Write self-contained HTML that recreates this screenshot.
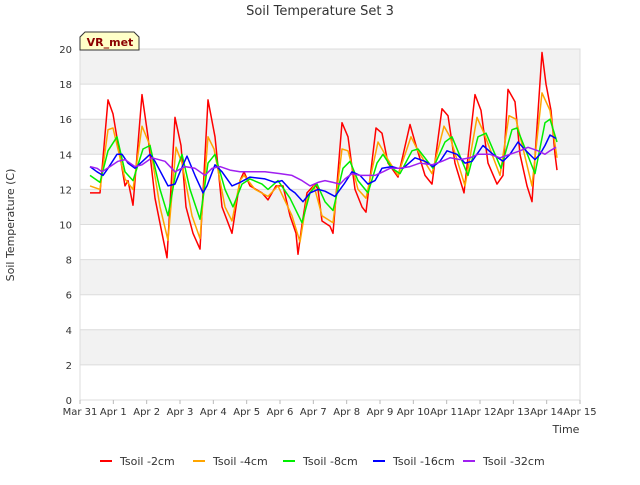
<!DOCTYPE html>
<html><head><meta charset="utf-8"><style>
body{margin:0;background:#fff;font-family:"Liberation Sans","DejaVu Sans",sans-serif;}
svg text{font-family:"DejaVu Sans","Liberation Sans",sans-serif;}
</style></head><body>
<svg id="chart" width="640" height="480" xmlns="http://www.w3.org/2000/svg">
<rect width="640" height="480" fill="#fff"/>
<text x="320" y="15" text-anchor="middle" font-size="13" fill="#333">Soil Temperature Set 3</text>
<g id="bands"></g><g id="grid"></g><g id="axes"></g><g id="series"></g>
<text x="14" y="225" transform="rotate(-90 14 225)" text-anchor="middle" font-size="11" fill="#333">Soil Temperature (C)</text>
<text x="566" y="433" text-anchor="middle" font-size="11" fill="#333">Time</text>
<g>
<path d="M80,50 L80,37 L85,32 L134,32 L139,37 L139,50 Z" fill="#ffffc8" stroke="#333" stroke-width="1"/>
<text x="110" y="46" text-anchor="middle" font-size="11" font-weight="bold" fill="#8b0000">VR_met</text>
</g>
<g id="legend"></g>
</svg>
<script>
const tickDays=[0,1,2,3,4,5,6,7,8,9,10,11,12,13,14,15];
const tickLabels=["Mar 31","Apr 1","Apr 2","Apr 3","Apr 4","Apr 5","Apr 6","Apr 7","Apr 8","Apr 9","Apr 10","Apr 11","Apr 12","Apr 13","Apr 14","Apr 15"];
const yTicks=[0,2,4,6,8,10,12,14,16,18,20];
const seriesNames=["Tsoil -2cm","Tsoil -4cm","Tsoil -8cm","Tsoil -16cm","Tsoil -32cm"];
const t2=[0.30,0.60,0.84,0.99,1.35,1.44,1.59,1.86,2.04,2.25,2.46,2.61,2.85,3.03,3.18,3.39,3.60,3.84,4.05,4.26,4.56,4.80,4.92,5.10,5.46,5.64,5.88,6.09,6.30,6.48,6.54,6.66,6.81,7.05,7.14,7.26,7.50,7.59,7.86,8.04,8.25,8.46,8.58,8.88,9.06,9.24,9.54,9.90,10.08,10.35,10.56,10.86,11.04,11.25,11.52,11.85,12.03,12.24,12.51,12.69,12.84,13.05,13.20,13.41,13.56,13.86,13.98,14.13,14.25,14.31];
const v2=[11.8,11.8,17.1,16.3,12.2,12.5,11.1,17.4,15,11.5,9.5,8.1,16.1,14.5,11,9.5,8.6,17.1,15,11,9.5,12.5,13.0,12.2,11.8,11.4,12.2,12.2,10.5,9.5,8.3,10,11.8,12.3,12.0,10.2,9.9,9.5,15.8,15,12,11,10.7,15.5,15.2,13.5,12.7,15.7,14.5,12.8,12.3,16.6,16.2,13.5,11.8,17.4,16.5,13.5,12.3,12.8,17.7,17,14,12.2,11.3,19.8,18,16.5,14,13.1];
const t4=[0.30,0.60,0.84,0.99,1.35,1.59,1.86,2.10,2.40,2.64,2.88,3.06,3.36,3.60,3.84,4.02,4.35,4.56,4.80,4.92,5.25,5.64,5.94,6.36,6.60,6.81,7.02,7.26,7.59,7.86,8.04,8.34,8.58,8.94,9.24,9.54,9.93,10.14,10.56,10.92,11.10,11.55,11.91,12.12,12.60,12.87,13.08,13.56,13.86,14.10,14.31];
const v4=[12.2,12.0,15.4,15.5,12.6,12.0,15.6,14.5,11,9.1,14.4,13.5,10.5,9.2,15,14.3,11,10.2,12.5,12.8,12.0,11.6,12.2,10.5,9.0,11.5,12.2,10.5,10.1,14.3,14.2,12,11.5,14.7,13.7,12.8,15,14.2,12.9,15.6,15,12.2,16.1,15.2,12.8,16.2,16,12.2,17.5,16.5,13.8];
const t8=[0.30,0.60,0.84,1.11,1.35,1.59,1.89,2.10,2.40,2.64,2.88,3.06,3.30,3.60,3.84,4.05,4.35,4.59,4.86,5.10,5.46,5.64,5.94,6.30,6.66,6.90,7.11,7.35,7.59,7.89,8.10,8.34,8.64,8.91,9.09,9.36,9.60,9.96,10.14,10.59,10.95,11.16,11.64,11.94,12.18,12.63,12.96,13.11,13.65,13.95,14.10,14.31];
const v8=[12.8,12.4,14.2,15,13,12.5,14.3,14.5,12,10.5,13,14,12,10.3,13.5,14,12,11,12.3,12.6,12.3,12.0,12.5,11.5,10.1,11.8,12.3,11.3,10.8,13.2,13.6,12.5,11.8,13.5,14.0,13.2,12.9,14.2,14.3,13.2,14.7,15,12.8,15,15.2,13.2,15.4,15.5,12.9,15.8,16,14.7];
const t16=[0.30,0.51,0.69,0.84,1.11,1.26,1.44,1.65,2.10,2.25,2.64,2.85,3.00,3.21,3.45,3.69,3.81,4.05,4.26,4.56,4.80,5.10,5.55,5.85,6.06,6.30,6.45,6.69,6.90,7.14,7.35,7.65,7.92,8.16,8.40,8.64,8.85,9.06,9.36,9.54,9.69,10.05,10.35,10.59,10.80,11.01,11.31,11.55,11.76,12.09,12.39,12.69,12.90,13.14,13.38,13.65,13.80,13.95,14.10,14.28];
const v16=[13.3,13,12.8,13.2,14.0,14.0,13.5,13.2,14.0,13.6,12.2,12.3,13.0,13.9,12.8,11.8,12.2,13.4,13.0,12.2,12.4,12.7,12.6,12.4,12.5,12,11.8,11.3,11.8,12.0,11.9,11.6,12.3,13.0,12.8,12.3,12.5,13.2,13.3,13.2,13.2,13.8,13.6,13.3,13.6,14.2,14.0,13.5,13.6,14.5,14.0,13.6,14.0,14.7,14.2,13.7,14.0,14.5,15.1,14.9];
const t32=[0.30,0.51,0.66,0.90,1.14,1.35,1.65,1.86,2.16,2.55,2.85,3.15,3.45,3.75,3.96,4.20,4.50,4.80,5.10,5.55,6.00,6.36,6.66,6.90,7.14,7.35,7.59,7.80,7.95,8.16,8.40,8.70,8.85,9.09,9.30,9.60,9.90,10.20,10.56,10.86,11.10,11.40,11.70,11.94,12.30,12.60,12.90,13.20,13.44,13.74,13.95,14.10,14.28];
const v32=[13.3,13.2,13.0,13.3,13.6,13.7,13.3,13.4,13.8,13.6,13.0,13.3,13.2,12.8,13.2,13.3,13.1,13.0,13.0,13.0,12.9,12.8,12.5,12.2,12.4,12.5,12.4,12.3,12.6,12.9,12.8,12.8,12.8,13.0,13.2,13.2,13.3,13.5,13.4,13.6,13.8,13.7,13.8,14.0,14.0,13.8,14.0,14.2,14.4,14.2,14.0,14.2,14.4];
const colors=["#ff0000","#ffa500","#00ee00","#0000ff","#a020f0"];
const NS="http://www.w3.org/2000/svg";
const L=80,R=580,T=49,B=400;
const xs=d=>L+(d-0)/(15-0)*(R-L);
const ys=v=>B-(v-0)/(20-0)*(B-T);
function mk(tag,attrs,parent){const e=document.createElementNS(NS,tag);for(const k in attrs)e.setAttribute(k,attrs[k]);parent.appendChild(e);return e;}
const bands=document.getElementById('bands'),grid=document.getElementById('grid'),axes=document.getElementById('axes'),ser=document.getElementById('series'),leg=document.getElementById('legend');
for(let i=0;i<yTicks.length-1;i++){
  const fill=(i%2===1)?"#f2f2f2":"#ffffff";
  const r=mk('rect',{x:L,y:ys(yTicks[i+1]),width:R-L,height:ys(yTicks[i])-ys(yTicks[i+1]),fill:fill},bands);
  
  
}
yTicks.forEach(v=>{
  const g=mk('line',{x1:L,x2:R,y1:ys(v),y2:ys(v),stroke:"#dcdcdc","stroke-width":1},grid);
  
  
  const t=mk('text',{x:L-8,y:ys(v)+4,"text-anchor":"end","font-size":10,fill:"#333"},axes);
  t.textContent=v;
  
  
});
mk('rect',{x:L,y:T,width:R-L,height:B-T,fill:"none",stroke:"#dcdcdc"},grid);
tickDays.forEach((d,i)=>{
  mk('line',{x1:xs(d),x2:xs(d),y1:B,y2:B+4,stroke:"#bbb"},axes);
  const t=mk('text',{x:xs(d),y:B+15,"text-anchor":"middle","font-size":10,fill:"#333"},axes);
  t.textContent=tickLabels[i];
  
  
});
const allT=[t2,t4,t8,t16,t32],allV=[v2,v4,v8,v16,v32];
allT.forEach((tt,s)=>{
  const pts=tt.map((d,i)=>xs(d).toFixed(1)+","+ys(allV[s][i]).toFixed(1)).join(" ");
  const p=mk('polyline',{points:pts,fill:"none",stroke:colors[s],"stroke-width":1.5,"stroke-linejoin":"round"},ser);
  
  
});
const lx=[100,193,283,373,463];
seriesNames.forEach((n,i)=>{
  const g=mk('g',{},leg);
  
  
  mk('line',{x1:lx[i],x2:lx[i]+12,y1:461,y2:461,stroke:colors[i],"stroke-width":2},g);
  const t=mk('text',{x:lx[i]+20,y:465,"font-size":11,fill:"#333"},g);
  t.textContent=n;
});
</script>
</body></html>
